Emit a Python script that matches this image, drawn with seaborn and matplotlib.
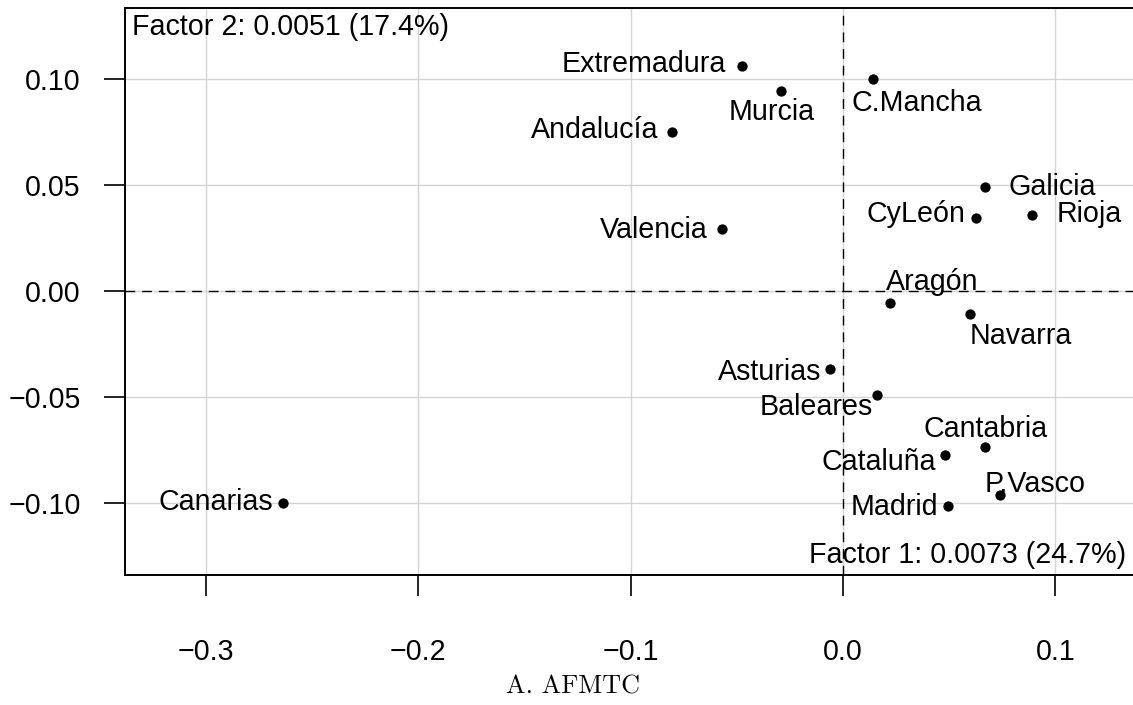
import matplotlib
matplotlib.use("Agg")
import matplotlib.pyplot as plt
import seaborn as sns
import pandas as pd

regions = ["Extremadura", "C.Mancha", "Murcia", "Andalucía", "Galicia", "CyLeón",
           "Rioja", "Valencia", "Aragón", "Navarra", "Asturias", "Baleares",
           "Cantabria", "Cataluña", "P.Vasco", "Madrid", "Canarias"]
factor1 = [-0.0476, 0.0139, -0.0290, -0.0805, 0.0667, 0.0626,
           0.0891, -0.0572, 0.0223, 0.0598, -0.0059, 0.0158,
           0.0667, 0.0480, 0.0741, 0.0492, -0.2637]
factor2 = [0.1063, 0.1000, 0.0943, 0.0752, 0.0492, 0.0343,
           0.0358, 0.0292, -0.0058, -0.0108, -0.0369, -0.0489,
           -0.0734, -0.0774, -0.0962, -0.1013, -0.0998]
x_ticks = [-0.3, -0.2, -0.1, 0.0, 0.1]
y_ticks = [-0.10, -0.05, 0.00, 0.05, 0.10]
x_tick_labels = ["\u22120.3", "\u22120.2", "\u22120.1", "0.0", "0.1"]
y_tick_labels = ["\u22120.10", "\u22120.05", "0.00", "0.05", "0.10"]
xlab = "Factor 1: 0.0073 (24.7%)"
ylab = "Factor 2: 0.0051 (17.4%)"
title = "A. AFMTC"

# label placement (pixel offsets from the dot to the text anchor, y downwards)
label_pos = {
    "Extremadura": (-15.7, 6.3, "right"),
    "Murcia": (-10, 29, "center"),
    "C.Mancha": (-21.5, 32, "left"),
    "Andalucía": (-13.5, 6.3, "right"),
    "Galicia": (24, 8.3, "left"),
    "CyLeón": (-11, 3.7, "right"),
    "Rioja": (24, 7, "left"),
    "Valencia": (-13.5, 9, "right"),
    "Aragón": (-4.4, -13.3, "left"),
    "Navarra": (-0.6, 30, "left"),
    "Asturias": (-9.2, 10.7, "right"),
    "Baleares": (-4, 20.3, "right"),
    "Cantabria": (1.3, -10, "center"),
    "Cataluña": (-9.2, 15, "right"),
    "P.Vasco": (-15.4, -3, "left"),
    "Madrid": (-9.1, 9.3, "right"),
    "Canarias": (-10, 7.3, "right"),
}

df = pd.DataFrame({"region": regions, "f1": factor1, "f2": factor2})

sns.set_theme(style="white")
plt.rcParams["font.family"] = ["Liberation Sans", "DejaVu Sans"]
plt.rcParams["axes.unicode_minus"] = True

FS = 20.6

fig = plt.figure(figsize=(11.33, 7.05), dpi=100)
ax = fig.add_axes([125 / 1133, 1 - 575 / 705, (1133 - 125) / 1133, (575 - 8) / 705])

ax.set_xlim(-0.338, 0.1365)
ax.set_ylim(-0.134, 0.1335)

ax.set_xticks(x_ticks)
ax.set_xticklabels(x_tick_labels)
ax.set_yticks(y_ticks)
ax.set_yticklabels(y_tick_labels)
ax.grid(True, color="#d4d4d4", linewidth=1.0)
ax.set_axisbelow(True)

ax.axhline(0, color="black", linewidth=1.0, linestyle=(0, (7, 5)), zorder=1.5)
ax.axvline(0, color="black", linewidth=1.0, linestyle=(0, (7, 5)), zorder=1.5)

sns.scatterplot(data=df, x="f1", y="f2", ax=ax, color="black", s=55,
                edgecolor="black", linewidth=0, zorder=3, legend=False)

px = 0.72
for r, x, y in zip(regions, factor1, factor2):
    dx, dy, ha = label_pos[r]
    ax.annotate(r, (x, y), xytext=(dx * px, -dy * px), textcoords="offset points",
                ha=ha, va="baseline", fontsize=FS, color="black", zorder=4)

ax.set_xlabel("")
ax.set_ylabel("")
ax.text(0.0069, 0.952, ylab, transform=ax.transAxes, ha="left", va="baseline",
        fontsize=FS, color="black")
ax.text(0.9935, 0.021, xlab, transform=ax.transAxes, ha="right", va="baseline",
        fontsize=FS, color="black")

for side in ["left", "bottom", "top"]:
    ax.spines[side].set_color("black")
    ax.spines[side].set_linewidth(1.4)
ax.spines["right"].set_visible(False)

ax.tick_params(axis="both", which="both", direction="out", length=15, width=1.2,
               color="black", labelsize=FS, labelcolor="black",
               left=True, bottom=True)
ax.tick_params(axis="x", pad=30)
ax.tick_params(axis="y", pad=17)

fig.text(573 / 1133, 1 - 694 / 705, title, ha="center", va="baseline",
         fontsize=18.8, family="cmr10", color="black")

fig.savefig("out.png", dpi=100, facecolor="white")
